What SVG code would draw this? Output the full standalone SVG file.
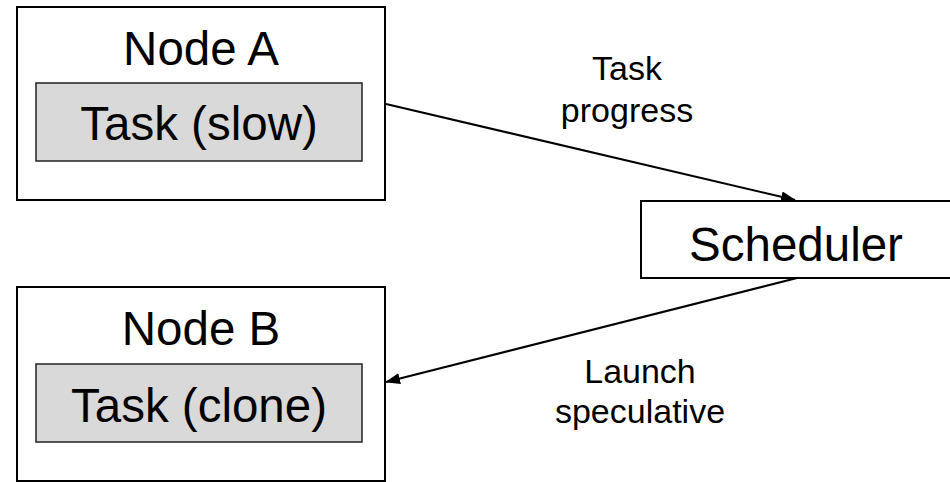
<svg xmlns="http://www.w3.org/2000/svg" width="950" height="482" viewBox="0 0 950 482">
  <style>
    .node { fill: #ffffff; stroke: #000000; stroke-width: 2; }
    .task { fill: #d9d9d9; stroke: #222222; stroke-width: 1.5; }
    .big { font-family: "Liberation Sans", Arial, sans-serif; font-size: 47.5px; fill: #000000; text-anchor: middle; }
    .label { font-family: "Liberation Sans", Arial, sans-serif; font-size: 34px; fill: #000000; text-anchor: middle; }
    .edge { stroke: #000000; stroke-width: 2; fill: none; marker-end: url(#arrow); }
  </style>
  <defs>
    <marker id="arrow" viewBox="0 0 15 11" refX="14" refY="5.5" markerWidth="15" markerHeight="11" markerUnits="userSpaceOnUse" orient="auto">
      <path d="M0,0 L15,5.5 L0,11 Z" fill="#000000"/>
    </marker>
  </defs>
  <rect width="950" height="482" fill="#ffffff"/>

  <g id="node-a">
    <rect class="node" x="17" y="7" width="368" height="193"/>
    <text class="big" x="201" y="65">Node A</text>
    <rect class="task" x="36" y="83" width="326" height="78"/>
    <text class="big" x="199" y="140">Task (slow)</text>
  </g>

  <g id="node-b">
    <rect class="node" x="17" y="287" width="368" height="194"/>
    <text class="big" x="201" y="345">Node B</text>
    <rect class="task" x="36" y="364" width="326" height="78"/>
    <text class="big" x="199" y="422">Task (clone)</text>
  </g>

  <g id="scheduler">
    <rect class="node" x="641" y="201" width="320" height="77"/>
    <text class="big" x="796" y="261">Scheduler</text>
  </g>

  <g id="connectors">
    <line class="edge" x1="386" y1="104" x2="795" y2="200"/>
    <line class="edge" x1="797" y1="278" x2="386" y2="382"/>
    <text class="label" x="627" y="80">Task</text>
    <text class="label" x="627" y="122">progress</text>
    <text class="label" x="640" y="383">Launch</text>
    <text class="label" x="640" y="423">speculative</text>
  </g>
</svg>
